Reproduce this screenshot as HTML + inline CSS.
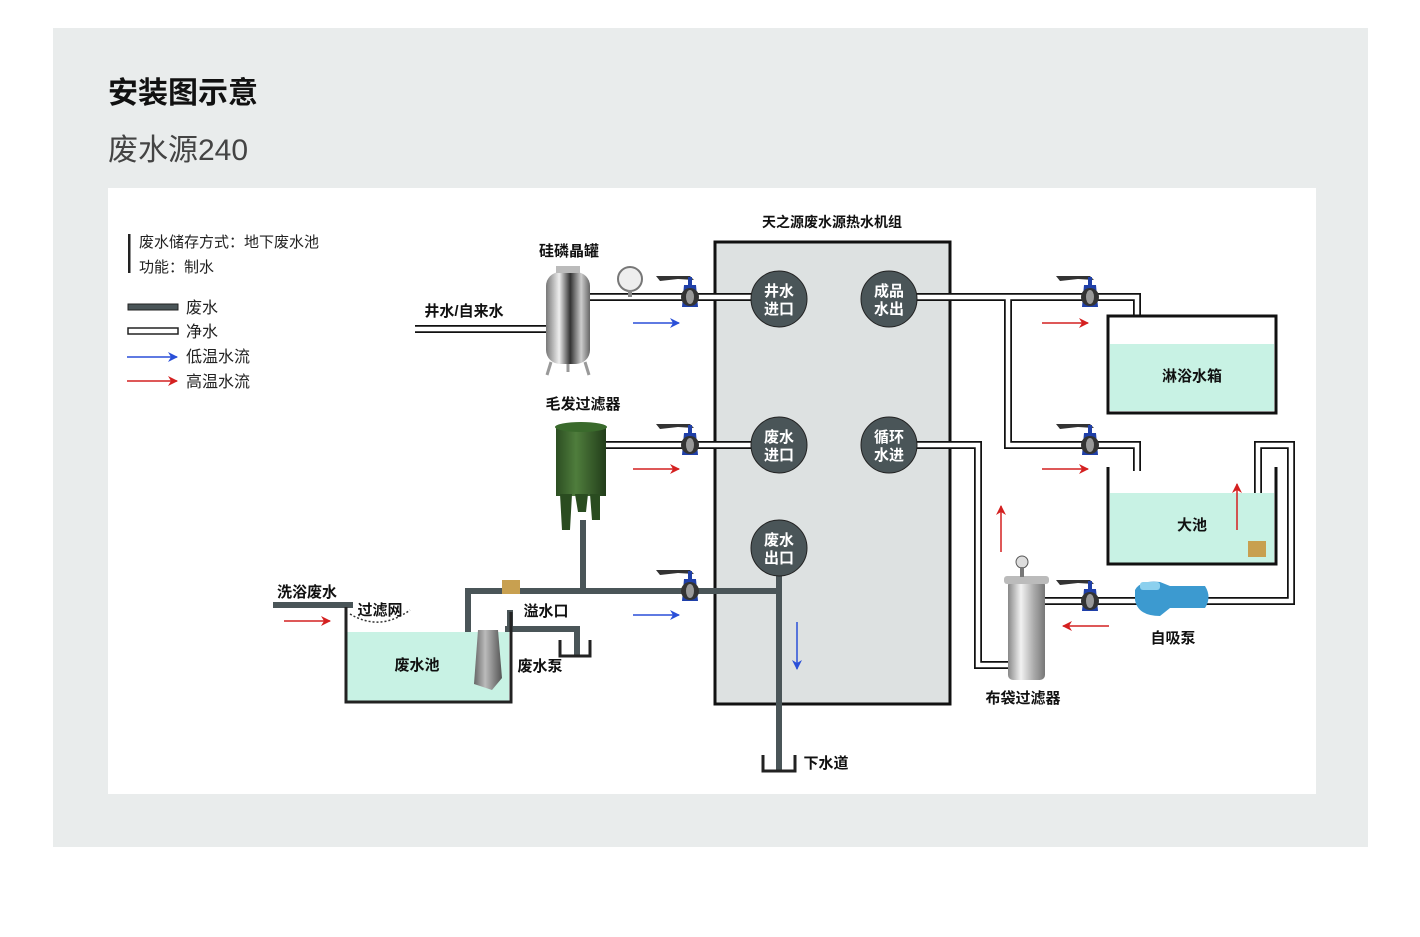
<!DOCTYPE html>
<html><head><meta charset="utf-8"><style>
body{margin:0;width:1420px;height:932px;background:#fff;overflow:hidden}
svg text{font-family:"Liberation Sans","Noto Sans CJK SC",sans-serif}
</style></head><body>
<svg width="1420" height="932" viewBox="0 0 1420 932" xmlns="http://www.w3.org/2000/svg">
<defs>
<marker id="ab" markerWidth="10" markerHeight="10" refX="9" refY="5" orient="auto" markerUnits="userSpaceOnUse"><path d="M0,0 L10,5 L0,10 L3,5z" fill="#2a4fd8"/></marker>
<marker id="ar" markerWidth="10" markerHeight="10" refX="9" refY="5" orient="auto" markerUnits="userSpaceOnUse"><path d="M0,0 L10,5 L0,10 L3,5z" fill="#d42020"/></marker>
<linearGradient id="st" x1="0" x2="1"><stop offset="0" stop-color="#777"/><stop offset=".3" stop-color="#eee"/><stop offset=".55" stop-color="#333"/><stop offset=".8" stop-color="#ccc"/><stop offset="1" stop-color="#666"/></linearGradient>
<linearGradient id="gr" x1="0" x2="1"><stop offset="0" stop-color="#2c4e22"/><stop offset=".4" stop-color="#4f7d3c"/><stop offset="1" stop-color="#223d1a"/></linearGradient>
<linearGradient id="bf" x1="0" x2="1"><stop offset="0" stop-color="#888"/><stop offset=".35" stop-color="#f2f2f2"/><stop offset=".7" stop-color="#aaa"/><stop offset="1" stop-color="#777"/></linearGradient>
<linearGradient id="pm" x1="0" x2="1"><stop offset="0" stop-color="#666"/><stop offset=".4" stop-color="#bbb"/><stop offset="1" stop-color="#555"/></linearGradient>
<g id="valve"><path d="M-34,-21 L0,-21 L4,-17 L-12,-18 L-30,-16z" fill="#333"/><rect x="-2" y="-20" width="4" height="10" fill="#1f3fa8"/><path d="M-6,-12 L6,-12 L8,10 L-8,10z" fill="#1f3fa8"/><circle r="9" fill="#333"/><ellipse rx="4" ry="7" fill="#999"/></g>
</defs>
<rect x="53" y="28" width="1315" height="819" fill="#e9ecec"/>
<rect x="108" y="188" width="1208" height="606" fill="#fff"/>
<text x="108" y="103" font-size="30" font-weight="bold" fill="#111">安装图示意</text>
<text x="108" y="160" font-size="30" fill="#444">废水源240</text>

<rect x="128" y="234" width="2.5" height="39" fill="#222"/>
<text x="139" y="247" font-size="15" fill="#222">废水储存方式：地下废水池</text>
<text x="139" y="272" font-size="15" fill="#222">功能：制水</text>
<rect x="128" y="304" width="50" height="6" fill="#4a5558" stroke="#222" stroke-width="1"/>
<rect x="128" y="328" width="50" height="6" fill="#fff" stroke="#222" stroke-width="1.5"/>
<line x1="127" y1="357" x2="177" y2="357" stroke="#2a4fd8" stroke-width="1.5" marker-end="url(#ab)"/>
<line x1="127" y1="381" x2="177" y2="381" stroke="#d42020" stroke-width="1.5" marker-end="url(#ar)"/>
<g font-size="16" fill="#222"><text x="186" y="313">废水</text><text x="186" y="337">净水</text><text x="186" y="362">低温水流</text><text x="186" y="387">高温水流</text></g>

<rect x="715" y="242" width="235" height="462" fill="#dde1e1" stroke="#111" stroke-width="3"/>
<text x="832" y="227" font-size="14" font-weight="bold" text-anchor="middle" fill="#111">天之源废水源热水机组</text>

<g fill="none" stroke-linejoin="miter">
<g stroke="#111" stroke-width="8">
<path d="M415,329 H548"/><path d="M588,297 H760"/><path d="M900,297 H1137 V329"/><path d="M1008,297 V445 H1137 V471"/>
<path d="M604,445 H760"/><path d="M900,445 H978 V665 H1012"/><path d="M1045,601 H1291 V445 H1258 V548"/>
</g>
<g stroke="#fff" stroke-width="4.5">
<path d="M415,329 H548"/><path d="M588,297 H760"/><path d="M900,297 H1137 V329"/><path d="M1008,297 V445 H1137 V471"/>
<path d="M604,445 H760"/><path d="M900,445 H978 V665 H1012"/><path d="M1045,601 H1291 V445 H1258 V548"/>
</g></g>

<g fill="none" stroke="#4a5558" stroke-width="6">
<path d="M583,520 V591"/><path d="M468,680 V591 H779"/><path d="M779,575 V770"/>
<path d="M510,610 V628"/><path d="M505,629 H577 V656"/><path d="M273,605 H353"/>
</g>
<path d="M763,755 V771 H795 V755" fill="none" stroke="#222" stroke-width="3"/>
<path d="M560,640 V656 H590 V640" fill="none" stroke="#222" stroke-width="3"/>
<path d="M350,614 Q380,632 410,610" fill="none" stroke="#333" stroke-width="1.5" stroke-dasharray="2,2"/>

<rect x="347" y="632" width="162" height="69" fill="#c8f2e4"/>
<path d="M346,607 V702 H511 V612" fill="none" stroke="#222" stroke-width="3"/>
<rect x="1108" y="316" width="168" height="97" fill="#fff" stroke="#111" stroke-width="3"/>
<rect x="1110" y="344" width="164" height="67" fill="#c8f2e4"/>
<rect x="1110" y="493" width="164" height="70" fill="#c8f2e4"/>
<path d="M1108,467 V564 H1276 V467" fill="none" stroke="#111" stroke-width="3"/>

<g fill="#4a5558" stroke="#222" stroke-width="1">
<circle cx="779" cy="299" r="28"/><circle cx="889" cy="299" r="28"/><circle cx="779" cy="445" r="28"/><circle cx="889" cy="445" r="28"/><circle cx="779" cy="548" r="28"/>
</g>
<g font-size="15" font-weight="bold" fill="#fff" text-anchor="middle">
<text x="779" y="296">井水</text><text x="779" y="314">进口</text>
<text x="889" y="296">成品</text><text x="889" y="314">水出</text>
<text x="779" y="442">废水</text><text x="779" y="460">进口</text>
<text x="889" y="442">循环</text><text x="889" y="460">水进</text>
<text x="779" y="545">废水</text><text x="779" y="563">出口</text>
</g>

<use href="#valve" x="690" y="297"/><use href="#valve" x="690" y="445"/><use href="#valve" x="690" y="591"/>
<use href="#valve" x="1090" y="297"/><use href="#valve" x="1090" y="445"/><use href="#valve" x="1090" y="601"/>

<rect x="546" y="272" width="44" height="92" rx="14" fill="url(#st)"/>
<rect x="556" y="266" width="24" height="7" fill="#bbb"/>
<path d="M551,362 L547,375 M585,362 L589,375 M568,364 V372" stroke="#999" stroke-width="3"/>
<circle cx="630" cy="279" r="12" fill="#eee" stroke="#777" stroke-width="2"/><rect x="628" y="290" width="4" height="7" fill="#888"/>
<rect x="556" y="426" width="50" height="70" fill="url(#gr)"/>
<ellipse cx="581" cy="427" rx="26" ry="5" fill="#3a6a2c"/>
<path d="M560,494 L562,530 L570,530 L572,494 M590,494 L592,520 L600,520 L600,494 M575,494 L578,512 L586,512 L588,494" fill="#2a4c20"/>
<path d="M478,630 L498,630 L502,678 L492,690 L474,684z" fill="url(#pm)"/>
<rect x="1008" y="580" width="37" height="100" rx="5" fill="url(#bf)"/>
<rect x="1004" y="576" width="45" height="8" rx="3" fill="#bbb"/>
<circle cx="1022" cy="562" r="6" fill="#ddd" stroke="#555"/><rect x="1020" y="567" width="4" height="10" fill="#777"/>
<path d="M1135,590 Q1140,580 1160,582 L1170,586 L1205,586 Q1212,597 1205,608 L1170,608 L1160,616 Q1138,616 1135,600z" fill="#3c9ad0"/>
<rect x="1140" y="582" width="20" height="8" rx="3" fill="#8cd0ee"/>
<rect x="502" y="580" width="18" height="14" fill="#c8a050"/>
<rect x="1248" y="541" width="18" height="16" fill="#c8a050"/>

<g stroke-width="1.5" fill="none">
<line x1="633" y1="323" x2="679" y2="323" stroke="#2a4fd8" marker-end="url(#ab)"/>
<line x1="633" y1="615" x2="679" y2="615" stroke="#2a4fd8" marker-end="url(#ab)"/>
<line x1="797" y1="622" x2="797" y2="669" stroke="#2a4fd8" marker-end="url(#ab)"/>
<line x1="633" y1="469" x2="679" y2="469" stroke="#d42020" marker-end="url(#ar)"/>
<line x1="1042" y1="323" x2="1088" y2="323" stroke="#d42020" marker-end="url(#ar)"/>
<line x1="1042" y1="469" x2="1088" y2="469" stroke="#d42020" marker-end="url(#ar)"/>
<line x1="1001" y1="552" x2="1001" y2="506" stroke="#d42020" marker-end="url(#ar)"/>
<line x1="1237" y1="530" x2="1237" y2="484" stroke="#d42020" marker-end="url(#ar)"/>
<line x1="1109" y1="626" x2="1063" y2="626" stroke="#d42020" marker-end="url(#ar)"/>
<line x1="284" y1="621" x2="330" y2="621" stroke="#d42020" marker-end="url(#ar)"/>
</g>

<g font-size="15" font-weight="bold" fill="#111">
<text x="569" y="256" text-anchor="middle">硅磷晶罐</text>
<text x="583" y="409" text-anchor="middle">毛发过滤器</text>
<text x="464" y="316" text-anchor="middle">井水/自来水</text>
<text x="307" y="597" text-anchor="middle">洗浴废水</text>
<text x="380" y="615" text-anchor="middle">过滤网</text>
<text x="546" y="616" text-anchor="middle">溢水口</text>
<text x="540" y="671" text-anchor="middle">废水泵</text>
<text x="417" y="670" text-anchor="middle">废水池</text>
<text x="826" y="768" text-anchor="middle">下水道</text>
<text x="1192" y="381" text-anchor="middle">淋浴水箱</text>
<text x="1192" y="530" text-anchor="middle">大池</text>
<text x="1173" y="643" text-anchor="middle">自吸泵</text>
<text x="1023" y="703" text-anchor="middle">布袋过滤器</text>
</g>
</svg>
</body></html>
